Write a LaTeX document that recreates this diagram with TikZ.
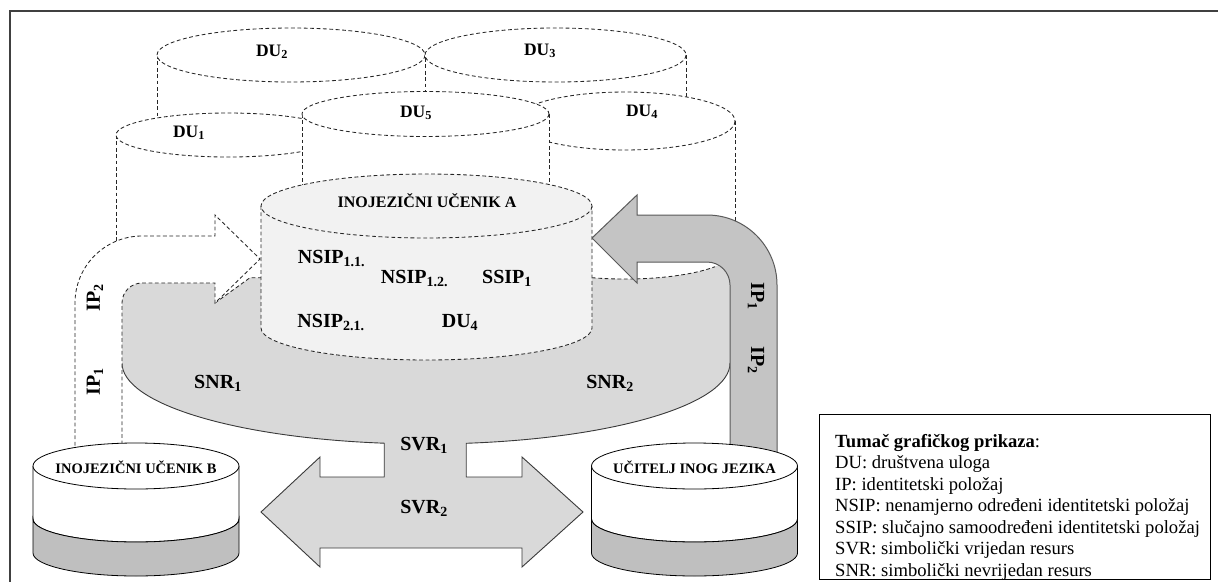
\documentclass[tikz,border=0pt]{standalone}
\usepackage{fontspec}
\setmainfont{Liberation Serif}
\definecolor{snrgray}{HTML}{D9D9D9}
\definecolor{ipgray}{HTML}{C4C4C4}
\definecolor{ipedge}{HTML}{5A5A5A}
\definecolor{cylA}{HTML}{F2F2F2}
\definecolor{bandgray}{HTML}{BFBFBF}
\definecolor{edgegray}{HTML}{3A3A3A}
% base cylinder (white top part, grey lower band); #1 = centre x
\newcommand{\basecyl}[1]{%
  \draw[fill=white, line width=0.8pt] ({#1-103},466) -- ({#1-103},519)
     arc[start angle=180, end angle=0, x radius=103, y radius=23] -- ({#1+103},466);
  \draw[fill=bandgray, line width=0.8pt] ({#1-103},519)
     arc[start angle=180, end angle=0, x radius=103, y radius=23] -- ({#1+103},553)
     arc[start angle=0, end angle=180, x radius=103, y radius=23] -- cycle;
  \draw[fill=white, line width=0.8pt] (#1,466) ellipse [x radius=103, y radius=23];
}
\begin{document}
\begin{tikzpicture}[x=1pt, y=-1pt,
  dsh/.style={draw=black!85, line width=0.85pt, dash pattern=on 3.8pt off 2.6pt},
  big/.style={inner sep=0pt, anchor=base, font=\bfseries\fontsize{20}{23}\selectfont},
  dulbl/.style={inner sep=0pt, anchor=base, font=\bfseries\fontsize{17.5}{20}\selectfont},
  cyltitle/.style={inner sep=0pt, anchor=base, font=\bfseries\fontsize{16}{19}\selectfont},
  basetitle/.style={inner sep=0pt, anchor=base, font=\bfseries\fontsize{14.5}{17}\selectfont},
  iplbl/.style={inner sep=0pt, font=\bfseries\fontsize{20}{23}\selectfont},
  legtxt/.style={inner sep=0pt, anchor=base west, font=\fontsize{18.6}{21.5}\selectfont}]
\useasboundingbox (0,0) rectangle (1218,581);

% ---- background social-role cylinders (dashed) ----
% DU2
\fill[white] (157,55) rectangle (425,210);
\draw[dsh] (157,55) -- (157,210);
\draw[dsh, fill=white] (291,55) ellipse [x radius=134, y radius=27];
% DU3
\fill[white] (425,55) rectangle (686,210);
\draw[dsh] (425,58) -- (425,210) (686,55) -- (686,210);
\draw[dsh, fill=white] (555.5,55) ellipse [x radius=130.5, y radius=27];
% DU4
\fill[white] (515,121) rectangle (735,250);
\fill[white] (735,250) arc[start angle=0, end angle=180, x radius=110, y radius=29] -- cycle;
\draw[dsh] (735,121) -- (735,250);
\draw[dsh, fill=white] (625,121) ellipse [x radius=110, y radius=29];
% DU1
\fill[white] (116,135) rectangle (340,242);
\draw[dsh] (116,135) -- (116,242);
\draw[dsh, fill=white] (228,135) ellipse [x radius=112, y radius=22];
% DU5
\fill[white] (302,114) rectangle (549,210);
\draw[dsh] (302,114) -- (302,210) (549,114) -- (549,210);
\draw[dsh, fill=white] (425.5,114) ellipse [x radius=123.5, y radius=22.5];

\node[dulbl] (du2) at (272,56) {DU\textsubscript{2}};
\node[dulbl] (du3) at (540,55) {DU\textsubscript{3}};
\node[dulbl] (du1) at (189,137) {DU\textsubscript{1}};
\node[dulbl] (du5) at (416,117) {DU\textsubscript{5}};
\node[dulbl] (du4) at (642,116) {DU\textsubscript{4}};

% ---- grey field of symbolic resources with the SVR double arrow ----
\fill[snrgray] (122,363) -- (122,303) arc[start angle=180, end angle=270, radius=20]
  -- (215,283) -- (215,303) -- (250,277.7) -- (591.9,277.7)
  arc[start angle=107.5, end angle=20, x radius=110, y radius=29] -- (730,290) -- (730,363)
  arc[start angle=0, end angle=82.4, x radius=304, y radius=81]
  -- (466.2,477) -- (522,477) -- (522,457) -- (583,512) -- (522,567) -- (522,548)
  -- (320,548) -- (320,567) -- (261,512) -- (320,457) -- (320,477) -- (384.2,477)
  -- (384.2,443.2) arc[start angle=97.9, end angle=180, x radius=304, y radius=81] -- cycle;
\draw[edgegray, line width=0.9pt] (730,363)
  arc[start angle=0, end angle=82.4, x radius=304, y radius=81]
  -- (466.2,477) -- (522,477) -- (522,457) -- (583,512) -- (522,567) -- (522,548)
  -- (320,548) -- (320,567) -- (261,512) -- (320,457) -- (320,477) -- (384.2,477)
  -- (384.2,443.2) arc[start angle=97.9, end angle=180, x radius=304, y radius=81];
\draw[dsh] (215,303) -- (250,277.7) -- (262,277.7);
\draw[dsh] (591.9,277.7) arc[start angle=107.5, end angle=35, x radius=110, y radius=29];

% ---- learner A cylinder ----
\fill[cylA] (261,206) -- (261,328) arc[start angle=180, end angle=0, x radius=165.5, y radius=32] -- (592,206) -- cycle;
\draw[dsh] (261,206) -- (261,328) arc[start angle=180, end angle=0, x radius=165.5, y radius=32] -- (592,206);
\draw[dsh, fill=cylA] (426.5,206) ellipse [x radius=165.5, y radius=32];

% ---- identity-position arrows ----
\draw[dsh, fill=white] (75,452) -- (75,303) arc[start angle=180, end angle=270, radius=67]
  -- (215,236) -- (215,215) -- (260,259) -- (215,303) -- (215,283) -- (142,283)
  arc[start angle=270, end angle=180, radius=20] -- (122,452);
\draw[ipedge, line width=1pt, fill=ipgray] (777,458) -- (777,285)
  arc[start angle=0, end angle=-90, radius=70] -- (637,215) -- (637,195) -- (592,238)
  -- (637,283) -- (637,262) -- (707,262) arc[start angle=-90, end angle=0, radius=23] -- (730,458);

% ---- learner B and teacher cylinders ----
\basecyl{136}
\basecyl{694.5}

% ---- labels ----
\node[cyltitle] (titA) at (427,207.5) {INOJEZIČNI UČENIK A};
\node[big] (n11) at (331.5,263) {NSIP\textsubscript{1.1.}};
\node[big] (n12) at (414.5,283) {NSIP\textsubscript{1.2.}};
\node[big] (s1) at (507,283) {SSIP\textsubscript{1}};
\node[big] (n21) at (331,327) {NSIP\textsubscript{2.1.}};
\node[big] (duin) at (460,327) {DU\textsubscript{4}};
\node[big] (snr1) at (218,388) {SNR\textsubscript{1}};
\node[big] (snr2) at (610,388) {SNR\textsubscript{2}};
\node[big] (svr1) at (424,450) {SVR\textsubscript{1}};
\node[big] (svr2) at (424,513) {SVR\textsubscript{2}};
\node[iplbl, rotate=90] (ipl2) at (95,298) {IP\textsubscript{2}};
\node[iplbl, rotate=90] (ipl1) at (95,382) {IP\textsubscript{1}};
\node[iplbl, rotate=-90] (ipr1) at (756,296) {IP\textsubscript{1}};
\node[iplbl, rotate=-90] (ipr2) at (756,360) {IP\textsubscript{2}};
\node[basetitle] (titB) at (136,473) {INOJEZIČNI UČENIK B};
\node[basetitle] (titT) at (694.5,473) {UČITELJ INOG JEZIKA};

% ---- legend ----
\draw[line width=0.9pt] (819,414) rectangle (1210,579);
\node[legtxt] (lg0) at (835,447) {\textbf{Tumač grafičkog prikaza}:};
\node[legtxt] (lg1) at (835,468.5) {DU: društvena uloga};
\node[legtxt] (lg2) at (835,490) {IP: identitetski položaj};
\node[legtxt] (lg3) at (835,511.5) {NSIP: nenamjerno određeni identitetski položaj};
\node[legtxt] (lg4) at (835,533) {SSIP: slučajno samoodređeni identitetski položaj};
\node[legtxt] (lg5) at (835,554.5) {SVR: simbolički vrijedan resurs};
\node[legtxt] (lg6) at (835,576) {SNR: simbolički nevrijedan resurs};

% ---- outer frame ----
\draw[line width=1.6pt, draw=black!75] (10,600) -- (10,11) -- (1240,11);
\end{tikzpicture}
\end{document}
